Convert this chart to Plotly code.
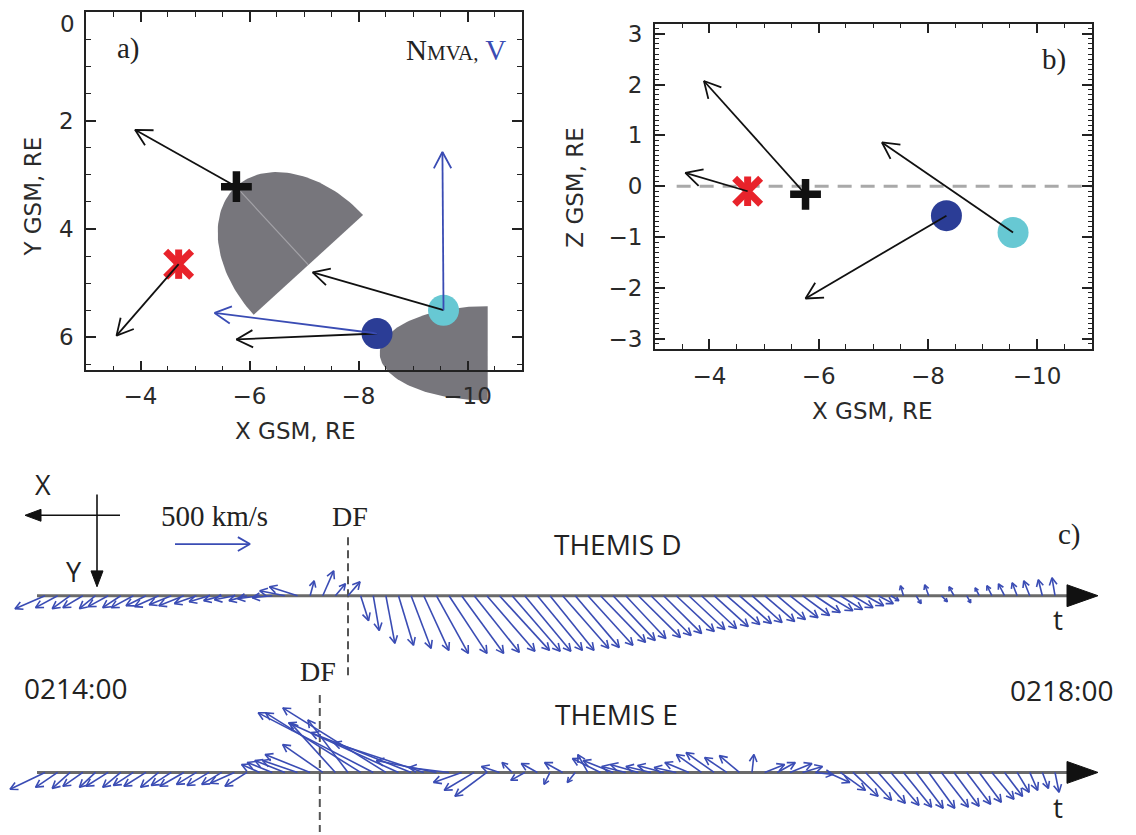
import numpy as np
import plotly.graph_objects as go

W, H = 1136, 835

# ---------------- Panels a) and b): spacecraft positions and vectors (GSM, RE) ----------------
SC_NAMES = ["red asterisk", "black plus", "blue circle", "cyan circle"]
SC_X = [-4.70, -5.76, -8.34, -9.56]
SC_Y = [4.65, 3.22, 5.93, 5.50]
SC_Z = [-0.10, -0.16, -0.58, -0.91]
# MVA normals (projected arrow components, RE)
NMVA_X = [1.14, 1.86, 2.58, 2.40]
NMVA_Y = [1.32, -1.05, 0.11, -0.70]
NMVA_Z = [0.36, 2.23, -1.63, 1.77]
# flow velocity (blue) arrows in panel a, for the blue and cyan spacecraft
V_SC = [2, 3]
V_X = [2.98, 0.02]
V_Y = [-0.38, -2.92]

# gray half-ellipse front sketches in panel a
FRONT_CX = [-7.08, -10.37]
FRONT_CY = [4.665, 6.295]
FRONT_A = [1.96, 1.98]
FRONT_B = [1.36, 0.87]
FRONT_UX = [0.677, 1.0]
FRONT_UY = [-0.738, 0.0]
FRONT_AXIS = [True, False]

A_YTICKS = [0, 2, 4, 6]

# ---------------- Panel c): velocity stick plots (km/s), 3-s samples from 02:14:00 ----------------
T_SAMPLES = list(range(0, 243, 3))
VX_D = [200, 147, 120, 133, 107, 133, 120, 147, 133, 160,
        147, 167, 147, 133, 120, 133, 120, 147, 133, 167,
        187, -27, -73, -67, -80, -53, -40, -60, -100, -133,
        -167, -213, -253, -280, -300, -320, -333, -320, -307, -300,
        -293, -307, -293, -300, -300, -280, -267, -280, -267, -253,
        -253, -240, -233, -227, -220, -213, -200, -200, -187, -187,
        -180, -167, -167, -147, -133, -120, -100, -53, 20, -33,
        27, -40, 33, -27, 27, 33, 40, 33, 40, 27,
        20]
VY_D = [87, 80, 87, 80, 87, 73, 80, 80, 67, 73,
        60, 67, 53, 40, 33, 27, 33, 20, 13, -33,
        -60, -100, -167, -80, -93, 167, 233, 320, 333, 353,
        367, 387, 387, 387, 380, 373, 367, 373, 373, 367,
        367, 353, 347, 333, 313, 300, 287, 280, 267, 253,
        240, 227, 220, 207, 193, 187, 180, 173, 160, 147,
        133, 113, 100, 93, 80, 67, 53, 33, -67, 53,
        -73, 40, -60, 47, -53, -67, -80, -87, -100, -107,
        -120]
VX_E = [233, 147, 120, 133, 107, 147, 120, 133, 147, 120,
        133, 160, 133, 147, 133, 160, 147, 120, 167, 200,
        233, 300, 267, 300, 267, 633, 767, 687, 733, 667,
        600, 400, 267, 187, 200, 213, 120, 67, 93, 107,
        40, 120, 53, 67, 187, 200, 160, 187, 167, 173,
        147, 160, 167, 187, 147, 133, -13, -133, -120, -147,
        -133, -120, -147, -167, -167, -173, -180, -187, -187, -180,
        -173, -180, -167, -160, -147, -147, -120, -80, -53, -40,
        -27]
VY_E = [113, 100, 107, 93, 100, 93, 100, 87, 93, 100,
        87, 93, 80, 87, 80, 73, 93, -53, -67, -80,
        -80, -120, -187, -333, -353, -400, -400, -433, -333, -267,
        -200, -80, -33, 67, 120, 160, -40, -67, 53, -60,
        80, -67, 67, -120, -93, -80, -40, -53, -40, -47,
        -33, -67, -120, -133, -100, -113, -120, -53, -67, -60,
        -40, 13, 67, 120, 160, 187, 207, 220, 233, 240,
        240, 233, 227, 213, 200, 180, 160, 133, 120, 107,
        133]
DF_TIME = {"D": 72.0, "E": 65.3}
SCALE_V = 500  # km/s reference arrow

# ---------------- colours ----------------
C_RED = "#e8232b"
C_DBLUE = "#2b3d96"
C_CYAN = "#67c8d3"
C_VBLUE = "#3a4cb4"
C_GRAY = "#77767c"
C_TXT = "#222222"
C_AX = "#2a2a2a"

# ---------------- geometry (pixels) ----------------
A_L, A_R, A_T, A_B, A_EXT_B = 86, 522, 9.3, 370, 412
B_L, B_R, B_T, B_B = 654.8, 1091.7, 20.7, 348.3
A_YMAX = 6.61
A_SCALE = (A_B - A_T) / A_YMAX
A_YEXT = (A_EXT_B - A_T) / A_SCALE
B_ZMAX = 3.2

C_TOP = 460
T0_PX, T1_PX = 45, 1055
PXS = (T1_PX - T0_PX) / 240.0
KPX = 0.15  # px per km/s
REF_PY = 597
BASE_PY = {"D": 597, "E": 775}


def cdata(px, py):
    return (px - T0_PX) / PXS, (REF_PY - py) / KPX


def arrow(x0, y0, dx, dy, head, ang_deg, frac=0.6, sy=1.0):
    x1, y1 = x0 + dx, y0 + dy
    ddx, ddy = dx, dy * sy
    L = float(np.hypot(ddx, ddy))
    if L == 0:
        return [], []
    ux, uy = ddx / L, ddy / L
    h = min(head, frac * L)
    a = np.radians(ang_deg)
    b1 = (-ux * np.cos(a) + uy * np.sin(a), -ux * np.sin(a) - uy * np.cos(a))
    b2 = (-ux * np.cos(a) - uy * np.sin(a), ux * np.sin(a) - uy * np.cos(a))
    xs = [x0, x1, None, x1 + h * b1[0], x1, x1 + h * b2[0], None]
    ys = [y0, y1, None, y1 + h * b1[1] / sy, y1, y1 + h * b2[1] / sy, None]
    return xs, ys


def to_c(xs, ys):
    ox, oy = [], []
    for x, y in zip(xs, ys):
        if x is None:
            ox.append(None); oy.append(None)
        else:
            t, v = cdata(x, y)
            ox.append(t); oy.append(v)
    return ox, oy


fig = go.Figure()

# ======== panel a content (x/y, extended domain so the lower front is not clipped) ========
for i in range(len(FRONT_CX)):
    th = np.linspace(-np.pi / 2, np.pi / 2, 90)
    ux, uy = FRONT_UX[i], FRONT_UY[i]
    vx, vy = -uy, ux
    xs = FRONT_CX[i] + FRONT_A[i] * np.cos(th) * ux + FRONT_B[i] * np.sin(th) * vx
    ys = FRONT_CY[i] + FRONT_A[i] * np.cos(th) * uy + FRONT_B[i] * np.sin(th) * vy
    fig.add_trace(go.Scatter(x=list(xs) + [xs[0]], y=list(ys) + [ys[0]], fill="toself",
                             fillcolor=C_GRAY, line=dict(width=0), mode="lines",
                             xaxis="x", yaxis="y", hoverinfo="skip"))
    if FRONT_AXIS[i]:
        fig.add_trace(go.Scatter(x=[FRONT_CX[i], FRONT_CX[i] + FRONT_A[i] * ux],
                                 y=[FRONT_CY[i], FRONT_CY[i] + FRONT_A[i] * uy],
                                 mode="lines", line=dict(color="#a3a2a7", width=1.2),
                                 xaxis="x", yaxis="y", hoverinfo="skip"))


def add_markers(xv, yv, xa, ya):
    fig.add_trace(go.Scatter(x=[xv[2]], y=[yv[2]], mode="markers", xaxis=xa, yaxis=ya,
                             marker=dict(symbol="circle", size=31, color=C_DBLUE, line=dict(width=0))))
    fig.add_trace(go.Scatter(x=[xv[3]], y=[yv[3]], mode="markers", xaxis=xa, yaxis=ya,
                             marker=dict(symbol="circle", size=31, color=C_CYAN, line=dict(width=0))))
    fig.add_trace(go.Scatter(x=[xv[0]], y=[yv[0]], mode="markers", xaxis=xa, yaxis=ya,
                             marker=dict(symbol="x-thin", size=26, line=dict(width=7, color=C_RED))))
    fig.add_trace(go.Scatter(x=[xv[0]], y=[yv[0]], mode="markers", xaxis=xa, yaxis=ya,
                             marker=dict(symbol="line-ns", size=21, line=dict(width=7, color=C_RED))))
    fig.add_trace(go.Scatter(x=[xv[1]], y=[yv[1]], mode="markers", xaxis=xa, yaxis=ya,
                             marker=dict(symbol="cross-thin", size=22, line=dict(width=7.5, color="#111111"))))


add_markers(SC_X, SC_Y, "x", "y")

ax_, ay_ = [], []
for i in range(4):
    xs, ys = arrow(SC_X[i], SC_Y[i], NMVA_X[i], NMVA_Y[i], 0.34, 28)
    ax_ += xs; ay_ += ys
fig.add_trace(go.Scatter(x=ax_, y=ay_, mode="lines", line=dict(color="#111111", width=1.8),
                         xaxis="x", yaxis="y", hoverinfo="skip"))
vx_, vy_ = [], []
for k, i in enumerate(V_SC):
    xs, ys = arrow(SC_X[i], SC_Y[i], V_X[k], V_Y[k], 0.34, 28)
    vx_ += xs; vy_ += ys
fig.add_trace(go.Scatter(x=vx_, y=vy_, mode="lines", line=dict(color=C_VBLUE, width=1.8),
                         xaxis="x", yaxis="y", hoverinfo="skip"))

# ======== panel b (x2/y2) ========
B_XS = (B_R - B_L) / 8.0
B_YS = (B_B - B_T) / (2 * B_ZMAX)
fig.add_trace(go.Scatter(x=[-3.4, -11], y=[0, 0], mode="lines", xaxis="x2", yaxis="y2",
                         line=dict(color="#a9a9a9", width=3, dash="14px,9px"), hoverinfo="skip"))
add_markers(SC_X, SC_Z, "x2", "y2")
bx_, by_ = [], []
for i in range(4):
    xs, ys = arrow(SC_X[i], SC_Z[i], NMVA_X[i], NMVA_Z[i], 0.34, 28, sy=B_YS / B_XS)
    bx_ += xs; by_ += ys
fig.add_trace(go.Scatter(x=bx_, y=by_, mode="lines", line=dict(color="#111111", width=1.8),
                         xaxis="x2", yaxis="y2", hoverinfo="skip"))

# ======== panel c (x3/y3) ========
for key in ["D", "E"]:
    b = BASE_PY[key]
    xs, ys = to_c([37, 1072], [b, b])
    fig.add_trace(go.Scatter(x=xs, y=ys, mode="lines", line=dict(color="#6a6a6a", width=3),
                             xaxis="x3", yaxis="y3", hoverinfo="skip"))

# DF dashed lines
for key, (p0, p1) in [("D", (538, 677)), ("E", (697, 835))]:
    px = T0_PX + DF_TIME[key] * PXS
    xs, ys = to_c([px, px], [p0, p1])
    fig.add_trace(go.Scatter(x=xs, y=ys, mode="lines", line=dict(color="#555555", width=2, dash="8px,5px"),
                             xaxis="x3", yaxis="y3", hoverinfo="skip"))

# compass
xs, ys = to_c([120, 38, None, 97, 97], [516, 516, None, 495, 575])
fig.add_trace(go.Scatter(x=xs, y=ys, mode="lines", line=dict(color="#111111", width=1.6),
                         xaxis="x3", yaxis="y3", hoverinfo="skip"))

# sticks
sx_all, sy_all = [], []
for key, VX, VY in [("D", VX_D, VY_D), ("E", VX_E, VY_E)]:
    b = BASE_PY[key]
    for t, vx, vy in zip(T_SAMPLES, VX, VY):
        px0 = T0_PX + t * PXS
        xs, ys = arrow(px0, b, -vx * KPX, vy * KPX, 8.5, 28, frac=0.45)
        cx, cy = to_c(xs, ys)
        sx_all += cx; sy_all += cy
fig.add_trace(go.Scatter(x=sx_all, y=sy_all, mode="lines", line=dict(color=C_VBLUE, width=1.6),
                         xaxis="x3", yaxis="y3", hoverinfo="skip"))

# 500 km/s reference arrow
xs, ys = arrow(175, 545, SCALE_V * KPX, 0, 14, 30)
cx, cy = to_c(xs, ys)
fig.add_trace(go.Scatter(x=cx, y=cy, mode="lines", line=dict(color=C_VBLUE, width=1.8),
                         xaxis="x3", yaxis="y3", hoverinfo="skip"))

# filled arrowheads (time axes and compass)
tri_px = []
for key in ["D", "E"]:
    b = BASE_PY[key]
    tri_px.append(([1067, 1098, 1067, 1067], [b - 11, b, b + 11, b - 11]))
tri_px.append(([25, 41, 41, 25], [516, 510, 522, 516]))
tri_px.append(([97, 91, 103, 97], [588, 572, 572, 588]))
for xs, ys in tri_px:
    cx, cy = to_c(xs, ys)
    fig.add_trace(go.Scatter(x=cx, y=cy, mode="lines", fill="toself", fillcolor="#111111",
                             line=dict(color="#111111", width=1), xaxis="x3", yaxis="y3", hoverinfo="skip"))

# ======== panel a frame (x4/y4), drawn last ========
fig.add_trace(go.Scatter(x=[-7], y=[3], mode="markers", marker=dict(size=1, opacity=0),
                         xaxis="x4", yaxis="y4", hoverinfo="skip"))


def frame_axis(dtick, minor_dtick, standoff, minor_len=5, **kw):
    d = dict(showline=True, linecolor=C_TXT, linewidth=1.6, mirror="allticks", ticks="inside",
             ticklen=10, tickwidth=1.5, tickcolor=C_TXT, dtick=dtick, tick0=0,
             minor=dict(ticks="inside", ticklen=minor_len, tickwidth=1.1, tickcolor=C_TXT,
                        dtick=minor_dtick, tick0=0),
             showgrid=False, zeroline=False,
             tickfont=dict(family="DejaVu Sans", size=23, color=C_AX),
             ticklabelstandoff=standoff)
    d.update(kw)
    return d


hidden = dict(visible=False, showgrid=False, zeroline=False)

# the top "0" label of panel a sits just below the frame edge, as in the original
A_YTICKTEXT = ["" if v == 0 else str(v) for v in A_YTICKS]

fig.update_layout(
    width=W, height=H, autosize=False, margin=dict(l=0, r=0, t=0, b=0),
    paper_bgcolor="white", plot_bgcolor="rgba(0,0,0,0)", showlegend=False,
    xaxis=dict(domain=[A_L / W, A_R / W], range=[-3, -11], anchor="y", **hidden),
    yaxis=dict(domain=[1 - A_EXT_B / H, 1 - A_T / H], range=[A_YEXT, 0], anchor="x", **hidden),
    xaxis2=frame_axis(2, 0.5, 6, domain=[B_L / W, B_R / W], range=[-3, -11], anchor="y2"),
    yaxis2=frame_axis(1, 0.1, 6, minor_len=4, domain=[1 - B_B / H, 1 - B_T / H],
                      range=[-B_ZMAX, B_ZMAX], anchor="x2"),
    xaxis3=dict(domain=[0, 1], range=[(0 - T0_PX) / PXS, (W - T0_PX) / PXS], anchor="y3", **hidden),
    yaxis3=dict(domain=[0, 1 - C_TOP / H], range=[(REF_PY - H) / KPX, (REF_PY - C_TOP) / KPX],
                anchor="x3", **hidden),
    xaxis4=frame_axis(2, 0.5, 4, domain=[A_L / W, A_R / W], range=[-3, -11], anchor="y4"),
    yaxis4=frame_axis(2, 0.5, 6, domain=[1 - A_B / H, 1 - A_T / H], range=[A_YMAX, 0], anchor="x4",
                      tickmode="array", tickvals=A_YTICKS, ticktext=A_YTICKTEXT),
)


def ann(text, px, py, size, family, color=C_TXT, xanchor="center", angle=0):
    return dict(text=text, x=px / W, y=1 - py / H, xref="paper", yref="paper", showarrow=False,
                xanchor=xanchor, yanchor="middle", textangle=angle,
                font=dict(size=size, family=family, color=color))


SERIF = "Liberation Serif"
SANS = "DejaVu Sans"
MYR = "Open Sans"
anns = [
    ann(str(A_YTICKS[0]), 77, 21, 23, SANS, color=C_AX, xanchor="right"),
    ann("a)", 128, 46, 29, SERIF),
    ann("b)", 1054, 57, 29, SERIF),
    ann("c)", 1069, 535, 29, SERIF),
    ann("N<span style='font-size:21px'>MVA,</span> <span style='color:%s'>V</span>" % C_VBLUE,
        508, 47, 29, SERIF, xanchor="right"),
    ann("X GSM, RE", 295, 431, 23, SANS, color=C_AX),
    ann("Y GSM, RE", 33, 195, 23, SANS, color=C_AX, angle=-90),
    ann("X GSM, RE", 872, 411, 23, SANS, color=C_AX),
    ann("Z GSM, RE", 575, 186, 23, SANS, color=C_AX, angle=-90),
    ann("X", 43, 485, 27, MYR),
    ann("Y", 74, 573, 27, MYR),
    ann("500 km/s", 214, 517, 29, SERIF),
    ann("DF", 350, 517, 28, SERIF),
    ann("DF", 318, 673, 28, SERIF),
    ann("THEMIS D", 618, 545, 28, MYR),
    ann("THEMIS E", 616, 716, 28, MYR),
    ann("0214:00", 75, 690, 28, MYR),
    ann("0218:00", 1061, 692, 28, MYR),
    ann("t", 1058, 620, 28, MYR),
    ann("t", 1058, 810, 28, MYR),
]
fig.update_layout(annotations=anns)

fig.write_html("out.html")
